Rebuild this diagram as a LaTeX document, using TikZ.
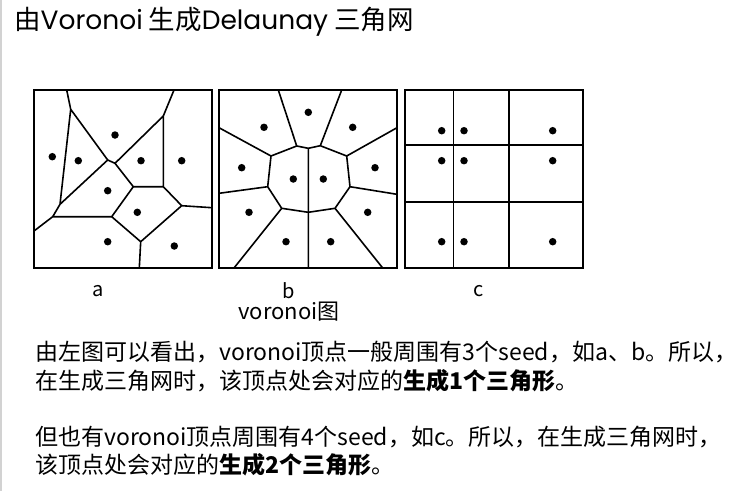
\documentclass[tikz,border=0pt]{standalone}
\usepackage{fontspec}
\setmainfont{Noto Sans CJK SC}
\newfontfamily\titlelatin{Poppins}
\begin{document}
\begin{tikzpicture}[x=1pt,y=-1pt,
  cell/.style={line width=1.6pt,line join=round},
  frame/.style={line width=1.3pt},
  seed/.style={fill=black,circle,inner sep=0pt,minimum size=7.5pt},
  lbl/.style={font=\fontsize{20}{23}\selectfont,inner sep=0pt},
  body/.style={font=\fontsize{23}{26}\selectfont,anchor=west,inner sep=0pt},
]
\useasboundingbox (0,0) rectangle (737,491);
\fill[white] (0,0) rectangle (737,491);
\fill[gray!35] (0,0) rectangle (2,491);
\node[anchor=west,inner sep=0pt,font=\fontsize{26.5}{30}\selectfont] (title) at (14,22) {由{\titlelatin Voronoi} 生成{\titlelatin Delaunay} 三角网};
% panel a
\begin{scope}
\coordinate (A1) at (66.7,90); \coordinate (A2) at (70.7,109.3); \coordinate (A3) at (107.7,160);
\coordinate (A4) at (60,204.3); \coordinate (A5) at (52.7,216.7); \coordinate (A6) at (34,231);
\coordinate (A7) at (111.7,216.7); \coordinate (A8) at (133.3,186.7); \coordinate (A9) at (115,163.3);
\coordinate (A10) at (163.3,116); \coordinate (A11) at (174,90); \coordinate (A12) at (163.3,186.7);
\coordinate (A13) at (181.7,205.7); \coordinate (A14) at (212,207.7); \coordinate (A15) at (140.7,241.7);
\coordinate (A16) at (139.3,268);
\draw[cell] (A1)--(A2)--(A3) (A2)--(A4)--(A3) (A4)--(A5)--(A6) (A5)--(A7)--(A8)--(A9)--(A3)
  (A9)--(A10)--(A11) (A10)--(A12)--(A8) (A12)--(A13)--(A14) (A13)--(A15)--(A7) (A15)--(A16);
\draw[frame] (34,90) rectangle (212,268);
\foreach \p [count=\i] in {(115,135),(52.3,156.7),(78.3,160.7),(141,160.7),(181.7,160.7),(107.7,190.7),(137.3,212.3),(107.7,241.7),(174.3,246)}
  \node[seed] (sa\i) at \p {};
\end{scope}
% panel b
\begin{scope}
\coordinate (B1) at (278.3,90); \coordinate (B2) at (296.7,146); \coordinate (B3) at (341.7,90);
\coordinate (B4) at (320.3,145.7); \coordinate (B5) at (308.3,148.3); \coordinate (B6) at (308.3,268);
\coordinate (B7) at (271,156); \coordinate (B8) at (219,127.7); \coordinate (B9) at (267.7,186.7);
\coordinate (B10) at (219,193.3); \coordinate (B11) at (281.7,208.3); \coordinate (B12) at (308.3,212.3);
\coordinate (B13) at (234,268); \coordinate (B14) at (335,208.3); \coordinate (B15) at (382.7,268);
\coordinate (B16) at (350,186.7); \coordinate (B17) at (397,194.3); \coordinate (B18) at (346.7,156);
\coordinate (B19) at (397,127.7);
\draw[cell] (B1)--(B2)--(B5)--(B4)--(B3) (B5)--(B6) (B2)--(B7)--(B8) (B7)--(B9)--(B10)
  (B9)--(B11)--(B12)--(B14)--(B15) (B11)--(B13) (B14)--(B16)--(B17) (B16)--(B18)--(B19) (B18)--(B4);
\draw[frame] (219,90) rectangle (397,268);
\foreach \p [count=\i] in {(308.3,112.3),(264,127.3),(352.7,127.3),(241.7,167.7),(293.3,179),(323.3,179),(375,167.7),(249,212.3),(367.7,212.3),(286,241.7),(330.7,241.7)}
  \node[seed] (sb\i) at \p {};
\end{scope}
% panel c
\begin{scope}
\draw[cell] (453.3,90)--(453.3,268) (509,90)--(509,268) (405,145)--(583,145) (405,201.7)--(583,201.7);
\draw[frame] (405,90) rectangle (583,268);
\foreach \x in {441.7,464,552.7}
  \foreach \y in {130.7,160.7,241.7}
    \node[seed] at (\x,\y) {};
\end{scope}
\node[lbl] (la) at (98,291) {a};
\node[lbl] (lb) at (289,291) {b};
\node[lbl] (lc) at (479,291) {c};
\node[lbl,font=\fontsize{22}{25}\selectfont] (lv) at (289,312) {voronoi图};
\node[body] (t1) at (35,352) {由左图可以看出，voronoi顶点一般周围有3个seed，如a、b。所以，};
\node[body] (t2) at (35,381) {在生成三角网时，该顶点处会对应的\textbf{生成1个三角形}。};
\node[body] (t3) at (35,437) {但也有voronoi顶点周围有4个seed，如c。所以，在生成三角网时，};
\node[body] (t4) at (35,465) {该顶点处会对应的\textbf{生成2个三角形}。};
\end{tikzpicture}
\end{document}
